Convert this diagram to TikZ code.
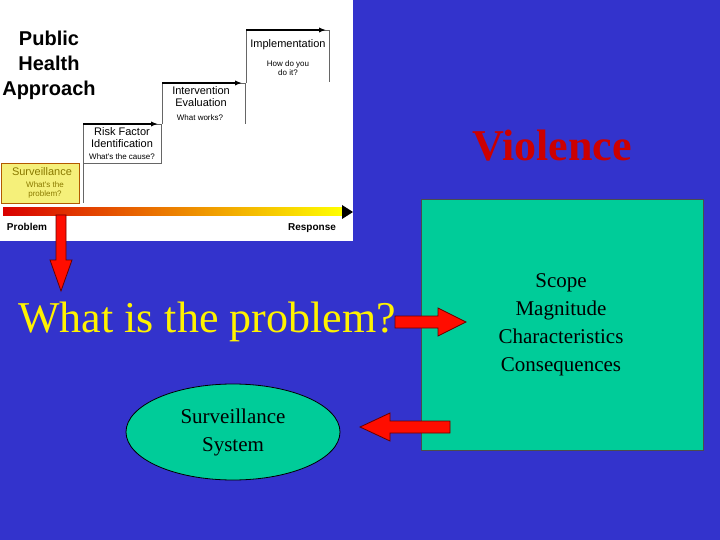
\documentclass[tikz,border=0pt]{standalone}
\usepackage{fontspec}
\setmainfont{Liberation Serif}
\newfontfamily\hv{Liberation Sans}
\usetikzlibrary{shapes.geometric,arrows.meta}
\definecolor{bg}{HTML}{3333CC}
\definecolor{tealg}{HTML}{00CC99}
\definecolor{vred}{HTML}{CC0000}
\definecolor{sy}{HTML}{F5F07A}
\definecolor{olv}{HTML}{8A7A00}
\tikzset{
  stepbox/.style={draw=black!60,line width=0.6pt},
  steptitle/.style={font=\hv\fontsize{11}{12}\selectfont,align=center,inner sep=0},
  stepsub/.style={font=\hv\fontsize{8}{9}\selectfont,align=center,inner sep=0},
  bigarrow/.style={fill=red!90!orange,draw=red!40!black,line width=0.8pt},
  body/.style={font=\fontsize{21}{28}\selectfont,align=center,inner sep=0}
}
\begin{document}
\begin{tikzpicture}[x=1pt,y=-1pt]
\fill[bg] (0,0) rectangle (720,540);
\useasboundingbox (0,0) rectangle (720,540);
\fill[white] (0,0) rectangle (353,241);
\node[font=\hv\bfseries\fontsize{20}{25}\selectfont,align=center,inner sep=0] (pha) at (49,65) {Public\\Health\\Approach};
% steps
\draw[stepbox,fill=sy,draw=orange!70!black] (1,163) rectangle (79,203);
\node[steptitle,text=olv] (s1) at (42,172) {Surveillance};
\node[stepsub,text=olv] (s1b) at (45,190) {What's the\\problem?};
\draw[stepbox] (83,203) -- (83,124) -- (161,124) -- (161,163) -- (83,163);
\node[steptitle] (s2) at (122,138) {Risk Factor\\Identification};
\node[stepsub] (s2b) at (122,157) {What's the cause?};
\draw[stepbox] (162,124) -- (162,83) -- (245,83) -- (245,124);
\node[steptitle] (s3) at (201,97) {Intervention\\Evaluation};
\node[stepsub] (s3b) at (200,118) {What works?};
\draw[stepbox] (246,83) -- (246,30) -- (329,30) -- (329,82);
\node[steptitle] (s4) at (288,45) {Implementation};
\node[stepsub] (s4b) at (288,68) {How do you\\do it?};
\draw[-{Latex[length=7pt]},line width=1.3pt] (83,124) -- (158,124);
\draw[-{Latex[length=7pt]},line width=1.3pt] (162,83) -- (242,83);
\draw[-{Latex[length=7pt]},line width=1.3pt] (246,30) -- (326,30);
% gradient axis
\shade[left color=red!85!black,right color=yellow] (3,208) rectangle (342,216);
\fill[black] (342,205) -- (353,212) -- (342,219) -- cycle;
\node[font=\hv\bfseries\fontsize{10}{11}\selectfont,inner sep=0] (prob) at (27,227) {Problem};
\node[font=\hv\bfseries\fontsize{10}{11}\selectfont,inner sep=0] (resp) at (312,228) {Response};
% down arrow
\draw[bigarrow] (56,215) -- (66,215) -- (66,260) -- (72,260) -- (61,291) -- (50,260) -- (56,260) -- cycle;
\node[font=\fontsize{44}{48}\selectfont,text=yellow,inner sep=0] (q) at (207,322) {What is the problem?};
\node[font=\bfseries\fontsize{44}{48}\selectfont,text=vred,inner sep=0] (v) at (552,146) {Violence};
\node[draw=black!70,fill=tealg,minimum width=282pt,minimum height=251pt,line width=0.8pt] (box) at (562,325) {};
\node[body] (list) at (561,325) {Scope\\Magnitude\\Characteristics\\Consequences};
\node[ellipse,draw=black,fill=tealg,minimum width=214pt,minimum height=96pt,line width=0.8pt,body] (sys) at (233,432) {Surveillance\\System};
% right arrow
\draw[bigarrow] (395,316) -- (438,316) -- (438,308) -- (466,322) -- (438,336) -- (438,328) -- (395,328) -- cycle;
% left arrow
\draw[bigarrow] (450,421) -- (390,421) -- (390,413) -- (360,427) -- (390,441) -- (390,433) -- (450,433) -- cycle;
\end{tikzpicture}
\end{document}
